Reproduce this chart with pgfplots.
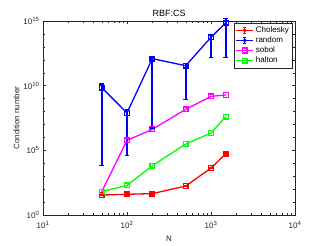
\documentclass[border=0pt]{standalone}
\usepackage{pgfplots}
\pgfplotsset{compat=1.18}
\usepackage{fontspec}
\setmainfont{Liberation Sans}
\definecolor{axgray}{rgb}{0.15,0.15,0.15}
\definecolor{cred}{rgb}{1,0,0}
\definecolor{cblue}{rgb}{0,0,1}
\definecolor{cmag}{rgb}{1,0,1}
\definecolor{cgreen}{rgb}{0,1,0}
\pgfplotsset{
  ebleg/.style={legend image code/.code={
    \draw[##1, mark=none] (0cm,0cm) -- (0.6cm,0cm);
    \draw[##1, mark=none, line width=0.8pt] (0.3cm,-0.11cm) -- (0.3cm,0.11cm);
    \draw[##1, mark=none, line width=0.8pt] (0.25cm,-0.11cm) -- (0.35cm,-0.11cm);
    \draw[##1, mark=none, line width=0.8pt] (0.25cm,0.11cm) -- (0.35cm,0.11cm);
    \draw[##1, line width=0.8pt] plot[mark=o, mark size=1.1pt] coordinates {(0.3cm,0cm)};
  }},
  ebar/.style={forget plot, draw=#1, line width=1.6pt, mark=-, mark size=2.4pt, mark options={solid, draw=#1, line width=1.6pt}},
}
\begin{document}
\begin{tikzpicture}
\begin{axis}[
  scale only axis,
  width=252pt, height=194pt,
  xmode=log, ymode=log,
  xmin=10, xmax=10000, ymin=1, ymax=1e15,
  xtick={10,100,1000,10000},
  xticklabels={10\textsuperscript{1},10\textsuperscript{2},10\textsuperscript{3},10\textsuperscript{4}},
  ytick={1,1e5,1e10,1e15},
  yticklabels={10\textsuperscript{0},10\textsuperscript{5},10\textsuperscript{10},10\textsuperscript{15}},
  minor ytick={10,100,1000,10000,1e6,1e7,1e8,1e9,1e11,1e12,1e13,1e14},
  tick align=inside,
  major tick length=3pt, minor tick length=1.6pt,
  axis line style={axgray, line width=0.4pt},
  every tick/.style={axgray, line width=0.4pt},
  tick label style={font=\fontsize{8}{9}\selectfont, text=axgray},
  xticklabel style={yshift=-3pt},
  xlabel={N}, ylabel={Condition number},
  label style={font=\fontsize{8}{9}\selectfont, text=axgray},
  xlabel style={yshift=0pt},
  ylabel style={yshift=-3pt},
  title={RBF:CS},
  title style={font=\fontsize{9}{10}\selectfont, yshift=-5pt},
  clip=false,
  legend cell align=left,
  legend style={at={(rel axis cs:0.99,0.99)}, anchor=north east,
    font=\fontsize{8}{9}\selectfont, draw=axgray, line width=0.4pt,
    row sep=-1.2pt, inner sep=1.5pt},
]
\addplot[cred, line width=1.3pt, mark=square, mark size=2.4pt, mark options={solid, line width=1.3pt}, ebleg] coordinates {
 (50,35) (100,40) (200,45) (500,174) (1000,4270) (1500,55000)
};
\addlegendentry{Cholesky}
\addplot[cblue, line width=1.3pt, mark=square, mark size=2.4pt, mark options={solid, line width=1.3pt}, ebleg] coordinates {
 (50,7.1e9) (100,7.8e7) (200,1.23e12) (500,3.5e11) (1000,5.5e13) (1500,7.4e14)
};
\addlegendentry{random}
\addplot[cmag, line width=1.3pt, mark=square, mark size=2.4pt, mark options={solid, line width=1.3pt}] coordinates {
 (50,63) (100,5.9e5) (200,4.2e6) (500,1.48e8) (1000,1.5e9) (1500,1.9e9)
};
\addlegendentry{sobol}
\addplot[cgreen, line width=1.3pt, mark=square, mark size=2.4pt, mark options={solid, line width=1.3pt}] coordinates {
 (50,63) (100,195) (200,6460) (500,3.1e5) (1000,2.19e6) (1500,4e7)
};
\addlegendentry{halton}
% error bars (low, high) drawn as separate segments
\addplot[ebar=cred] coordinates {(50,32) (50,38)};
\addplot[ebar=cred] coordinates {(100,37) (100,43)};
\addplot[ebar=cred] coordinates {(200,41) (200,49)};
\addplot[ebar=cred] coordinates {(500,160) (500,190)};
\addplot[ebar=cred] coordinates {(1000,3900) (1000,4650)};
\addplot[ebar=cred] coordinates {(1500,50000) (1500,60000)};
\addplot[ebar=cblue] coordinates {(50,6.5e3) (50,1.35e10)};
\addplot[ebar=cblue] coordinates {(100,4.1e4) (100,1.26e8)};
\addplot[ebar=cblue] coordinates {(200,5.6e6) (200,1.6e12)};
\addplot[ebar=cblue] coordinates {(500,8.7e8) (500,5e11)};
\addplot[ebar=cblue] coordinates {(1000,1.55e12) (1000,8e13)};
\addplot[ebar=cblue] coordinates {(1500,1.55e12) (1500,1.6e15)};
\end{axis}
\path[use as bounding box] ([shift={(-43pt,-30pt)}]current axis.south west) rectangle ([shift={(32pt,21pt)}]current axis.north east);
\end{tikzpicture}
\end{document}
